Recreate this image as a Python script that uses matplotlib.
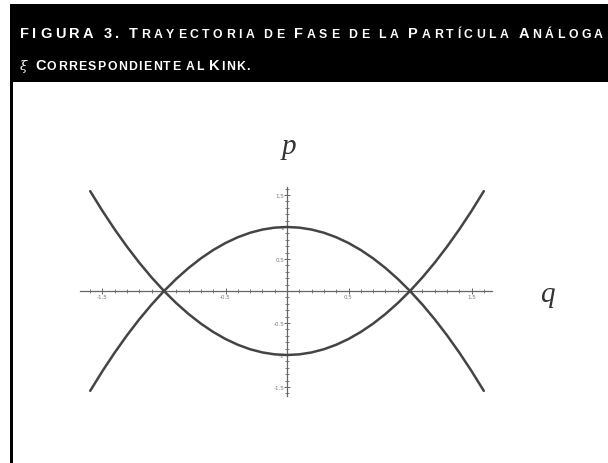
import matplotlib
matplotlib.use("Agg")
import matplotlib.pyplot as plt
from matplotlib.transforms import IdentityTransform
from matplotlib.patches import Rectangle

# ---- data ----
q_vals = [-1.6, -1.5, -1.4, -1.3, -1.2, -1.1, -1.0, -0.9, -0.8, -0.7, -0.6, -0.5,
          -0.4, -0.3, -0.2, -0.1, 0.0, 0.1, 0.2, 0.3, 0.4, 0.5, 0.6, 0.7, 0.8,
          0.9, 1.0, 1.1, 1.2, 1.3, 1.4, 1.5, 1.6]
p_upper = [-1.56, -1.25, -0.96, -0.69, -0.44, -0.21, 0.0, 0.19, 0.36, 0.51, 0.64, 0.75,
           0.84, 0.91, 0.96, 0.99, 1.0, 0.99, 0.96, 0.91, 0.84, 0.75, 0.64, 0.51, 0.36,
           0.19, 0.0, -0.21, -0.44, -0.69, -0.96, -1.25, -1.56]
p_lower = [1.56, 1.25, 0.96, 0.69, 0.44, 0.21, 0.0, -0.19, -0.36, -0.51, -0.64, -0.75,
           -0.84, -0.91, -0.96, -0.99, -1.0, -0.99, -0.96, -0.91, -0.84, -0.75, -0.64, -0.51, -0.36,
           -0.19, 0.0, 0.21, 0.44, 0.69, 0.96, 1.25, 1.56]
x_tick_labels = ["-1.5", "-0.5", "0.5", "1.5"]
x_tick_pos = [-1.5, -0.5, 0.5, 1.5]
y_tick_labels = ["1.5", "1", "0.5", "-0.5", "-1", "-1.5"]
y_tick_pos = [1.5, 1.0, 0.5, -0.5, -1.0, -1.5]
title_line1 = [("FIGURA 3.", False), (" T", False), ("RAYECTORIA DE", True), (" F", False),
               ("ASE DE LA", True), (" P", False), ("ARTÍCULA", True), (" A", False), ("NÁLOGA", True)]
title_line2 = [("C", False), ("ORRESPONDIENTE AL", True), (" K", False), ("INK.", True)]
title_symbol = "ξ"

W, H = 608, 464
fig = plt.figure(figsize=(W / 100, H / 100), dpi=100)
fig.patch.set_facecolor("white")

# header and frame
fig.patches.append(Rectangle((10, H - 83), W - 10, 78, transform=IdentityTransform(),
                             facecolor="black", edgecolor="none", figure=fig))
fig.patches.append(Rectangle((10, 0), 2.5, H - 83, transform=IdentityTransform(),
                             facecolor="black", edgecolor="none", figure=fig))

# ---- plot ----
ox, oy = 287, 292          # origin in pixels from top-left
sx, sy = 123, 64           # pixels per unit
xl, yl = 1.75, 1.75
left = ox - xl * sx
width = 2 * xl * sx
height = 2 * yl * sy
bottom = H - (oy + yl * sy)
ax = fig.add_axes([left / W, bottom / H, width / W, height / H])
ax.set_xlim(-xl, xl)
ax.set_ylim(-yl, yl)
ax.patch.set_alpha(0)

curve_color = "#444444"
ax.plot(q_vals, p_upper, color=curve_color, lw=1.8, solid_capstyle="round", zorder=3)
ax.plot(q_vals, p_lower, color=curve_color, lw=1.8, solid_capstyle="round", zorder=3)

for s in ["top", "right"]:
    ax.spines[s].set_visible(False)
ax.spines["left"].set_position("zero")
ax.spines["bottom"].set_position("zero")
ax.spines["bottom"].set_bounds(-1.68, 1.67)
ax.spines["left"].set_bounds(-1.64, 1.63)
for s in ["left", "bottom"]:
    ax.spines[s].set_color("#666666")
    ax.spines[s].set_linewidth(0.9)

ax.set_xticks(x_tick_pos)
ax.set_xticklabels(x_tick_labels)
ax.set_yticks(y_tick_pos)
ax.set_yticklabels(y_tick_labels)
ax.set_xticks([i / 10 for i in range(-16, 17) if i % 5 != 0], minor=True)
ax.set_yticks([i / 10 for i in range(-16, 17) if i % 5 != 0], minor=True)
ax.tick_params(which="major", direction="inout", length=4, width=0.7, color="#666666",
               labelsize=4, labelcolor="#777777", pad=0)
ax.tick_params(which="minor", direction="inout", length=2.5, width=0.6, color="#666666")

fig.text(289 / W, 1 - 147 / H, "p", fontsize=21, fontstyle="italic", family="Liberation Serif",
         color="#333333", ha="center", va="center")
fig.text(547 / W, 1 - 295 / H, "q", fontsize=21, fontstyle="italic", family="Liberation Serif",
         color="#333333", ha="center", va="center")

# ---- title with small caps ----
renderer = fig.canvas.get_renderer()
BIG, SMALL = 10.5, 8.8


def layout(segments):
    chars = []
    for txt, small in segments:
        for ch in txt:
            chars.append((ch, SMALL if small else BIG))
    return chars


def draw_line(segments, x0, baseline, tracking, draw=True):
    x = x0
    for ch, size in layout(segments):
        t = fig.text(x, baseline, ch, fontsize=size, fontweight="bold",
                     family=["Liberation Sans", "DejaVu Sans"],
                     color="white", transform=IdentityTransform(), va="baseline", ha="left")
        if ch == " ":
            w = size * 100 / 72 * 0.2
        else:
            w = t.get_window_extent(renderer).width
        if not draw:
            t.remove()
        x += w + tracking
    return x - tracking


def fit_tracking(segments, x0, x1):
    nat = draw_line(segments, 0, 0, 0, draw=False)
    n = len(layout(segments))
    return (x1 - x0 - nat) / (n - 1)


track1 = fit_tracking(title_line1, 20, 603)
draw_line(title_line1, 20, H - 38, track1)
fig.text(20, H - 70, title_symbol, fontsize=9.5, family="DejaVu Serif", fontstyle="italic",
         color="white", transform=IdentityTransform(), va="baseline", ha="left")
track2 = fit_tracking(title_line2, 35, 250)
draw_line(title_line2, 35, H - 70, track2)

fig.savefig("out.png", dpi=100, facecolor="white")
